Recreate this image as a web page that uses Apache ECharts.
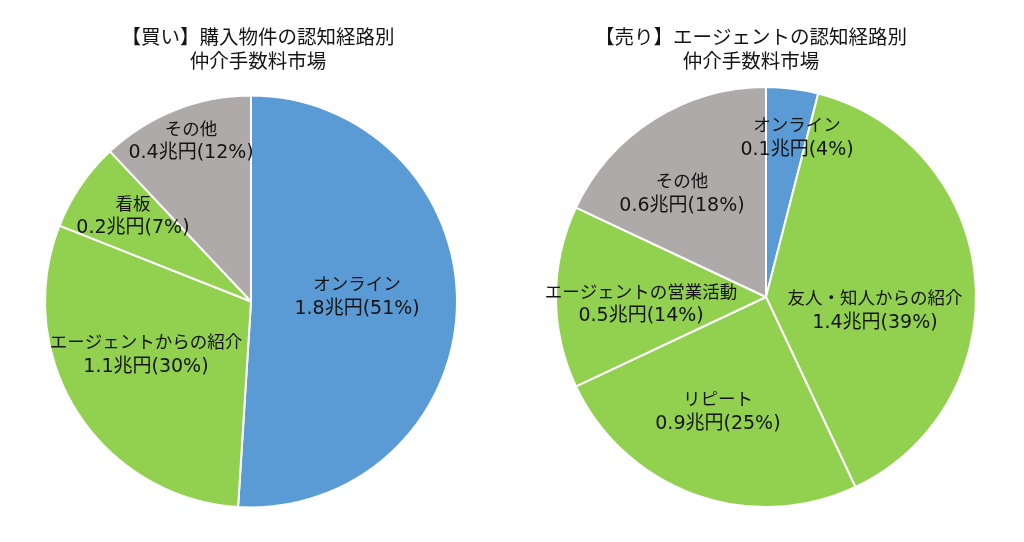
<!DOCTYPE html>
<html><head><meta charset="utf-8">
<script src="https://cdn.jsdelivr.net/npm/echarts@6/dist/echarts.min.js"></script>
<style>html,body{margin:0;padding:0;background:#fff}#c{width:1024px;height:542px}</style>
</head><body><div id="c"></div>
<script>
// ---- data ----
const buyTitle = '【買い】購入物件の認知経路別\n仲介手数料市場';
const buyNames = ['オンライン', 'エージェントからの紹介', '看板', 'その他'];
const buyAmounts = ['1.8', '1.1', '0.2', '0.4'];   // 兆円
const buyShares = [51, 30, 7, 12];                 // %

const sellTitle = '【売り】エージェントの認知経路別\n仲介手数料市場';
const sellNames = ['オンライン', '友人・知人からの紹介', 'リピート', 'エージェントの営業活動', 'その他'];
const sellAmounts = ['0.1', '1.4', '0.9', '0.5', '0.6'];
const sellShares = [4, 39, 25, 14, 18];

// ---- styles / layout ----
const BLUE = '#5B9BD5', GREEN = '#92D050', GRAY = '#AEAAAA';
const buyColors = [BLUE, GREEN, GREEN, GRAY];
const sellColors = [BLUE, GREEN, GREEN, GREEN, GRAY];
// label anchor relative to pie centre, in units of radius
const buyLabelPos = [[0.515, -0.02], [-0.51, 0.262], [-0.573, -0.41], [-0.291, -0.774]];
const sellLabelPos = [[0.148, -0.755], [0.519, 0.067], [-0.229, 0.548], [-0.595, 0.038], [-0.4, -0.486]];

const FONT = '"DejaVu Sans", "Noto Sans CJK JP", sans-serif';
const TEXT = '#141414';
const buyPie = { cx: 251, cy: 301.5, r: 206 };
const sellPie = { cx: 766, cy: 297, r: 210 };

function makeData(names, amounts, shares, colors) {
  return names.map((n, i) => ({
    name: n, value: shares[i], amount: amounts[i],
    itemStyle: { color: colors[i] }
  }));
}

function makeSeries(pie, names, amounts, shares, colors, labelPos) {
  return {
    type: 'pie',
    center: [pie.cx, pie.cy],
    radius: [0, pie.r],
    startAngle: 90,
    clockwise: true,
    silent: true,
    data: makeData(names, amounts, shares, colors),
    itemStyle: { borderColor: '#fff', borderWidth: 2 },
    label: {
      show: true,
      position: 'inside',
      formatter: p => '{n|' + p.name + '}\n{v|' + p.data.amount + '兆円(' + p.value + '%)}',
      fontFamily: FONT,
      fontSize: 17.5,
      lineHeight: 24,
      color: TEXT,
      align: 'center',
      rich: {
        n: { fontFamily: FONT, fontSize: 17.5, lineHeight: 23, color: TEXT, align: 'center' },
        v: { fontFamily: FONT, fontSize: 19, lineHeight: 24, color: TEXT, align: 'center' }
      }
    },
    labelLine: { show: false },
    labelLayout: p => ({
      x: pie.cx + labelPos[p.dataIndex][0] * pie.r,
      y: pie.cy + labelPos[p.dataIndex][1] * pie.r,
      align: 'center',
      verticalAlign: 'middle'
    }),
    emphasis: { disabled: true }
  };
}

const titleStyle = { fontFamily: FONT, fontSize: 19.5, fontWeight: 'normal', color: TEXT, lineHeight: 24 };
const chart = echarts.init(document.getElementById('c'));
chart.setOption({
  animation: false,
  backgroundColor: '#fff',
  title: [
    { text: buyTitle, left: 253, top: 22, textAlign: 'center', textStyle: titleStyle },
    { text: sellTitle, left: 746, top: 22, textAlign: 'center', textStyle: titleStyle }
  ],
  series: [
    makeSeries(buyPie, buyNames, buyAmounts, buyShares, buyColors, buyLabelPos),
    makeSeries(sellPie, sellNames, sellAmounts, sellShares, sellColors, sellLabelPos)
  ]
});
</script></body></html>
